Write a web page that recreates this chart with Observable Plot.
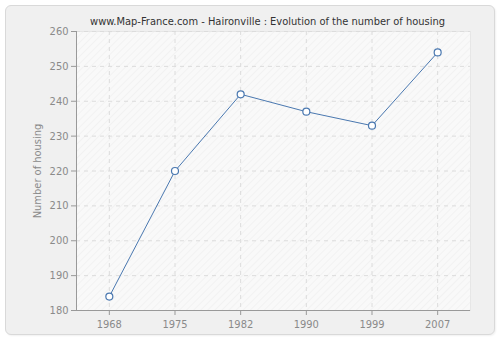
<!DOCTYPE html>
<html><head><meta charset="utf-8">
<script src="https://cdn.jsdelivr.net/npm/d3@7"></script>
<script src="https://cdn.jsdelivr.net/npm/@observablehq/plot@0.6"></script>
<style>
body{margin:0;background:#fff;}
#chart{position:relative;width:500px;height:340px;overflow:hidden;}
#panel{position:absolute;left:5px;top:5px;width:488px;height:328px;border:1px solid #d9d9d9;border-radius:6px;background:#f0f0f0;box-shadow:1px 1px 2px rgba(0,0,0,0.06);}
#chart svg{position:absolute;left:0;top:0;}
</style></head><body><div id="chart"><div id="panel"></div></div>
<script>
const years = ["1968","1975","1982","1990","1999","2007"];
const housing = [184,220,242,237,233,254];
const yTicks = [180,190,200,210,220,230,240,250,260];
const title = "www.Map-France.com - Haironville : Evolution of the number of housing";
const yLabel = "Number of housing";
const data = years.map((y,i)=>({year:y, value:housing[i]}));
const font = "'DejaVu Sans Condensed', 'DejaVu Sans', Verdana, sans-serif";
const lineColor = "#4a78b0";

const plot = Plot.plot({
  width:500, height:340,
  marginLeft:76, marginRight:30, marginTop:31, marginBottom:30,
  style:{background:"transparent", fontFamily:font, fontSize:"11px", color:"#8a8a8a"},
  x:{type:"point", domain:years, padding:0.5, round:false, label:null},
  y:{domain:[180,260], label:null},
  marks:[
    Plot.frame({fill:"#f9f9f9", stroke:"#e6e6e6"}),
    Plot.frame({fill:"url(#hatch)"}),
    Plot.gridX(years,{stroke:"#dcdcdc", strokeOpacity:1, strokeDasharray:"4,4"}),
    Plot.gridY(yTicks.slice(1),{stroke:"#dcdcdc", strokeOpacity:1, strokeDasharray:"4,4"}),
    Plot.axisY(yTicks,{tickSize:5, tickPadding:3, label:null, stroke:"#999", fill:"#8a8a8a"}),
    Plot.axisX(years,{tickSize:5, tickPadding:5, label:null, stroke:"#999", fill:"#8a8a8a"}),
    Plot.ruleY([180],{stroke:"#999"}),
    Plot.frame({anchor:"left", stroke:"#999"}),
    Plot.line(data,{x:"year", y:"value", stroke:lineColor, strokeWidth:1}),
    Plot.dot(data,{x:"year", y:"value", r:3.5, fill:"#fff", stroke:lineColor, strokeWidth:1.2}),
    Plot.text([title],{frameAnchor:"top", dy:-14, dx:-6, fill:"#333", fontSize:11, text:d=>d}),
    Plot.text([yLabel],{frameAnchor:"left", textAnchor:"middle", rotate:-90, dx:-39, fill:"#8a8a8a", fontSize:11, text:d=>d})
  ]
});
const ns = "http://www.w3.org/2000/svg";
const defs = document.createElementNS(ns,"defs");
defs.innerHTML = '<pattern id="hatch" width="5" height="5" patternUnits="userSpaceOnUse" patternTransform="rotate(45)"><line x1="0" y1="0" x2="0" y2="5" stroke="#ececec" stroke-width="1"/></pattern>';
plot.insertBefore(defs, plot.firstChild);
document.getElementById("chart").appendChild(plot);
</script></body></html>
